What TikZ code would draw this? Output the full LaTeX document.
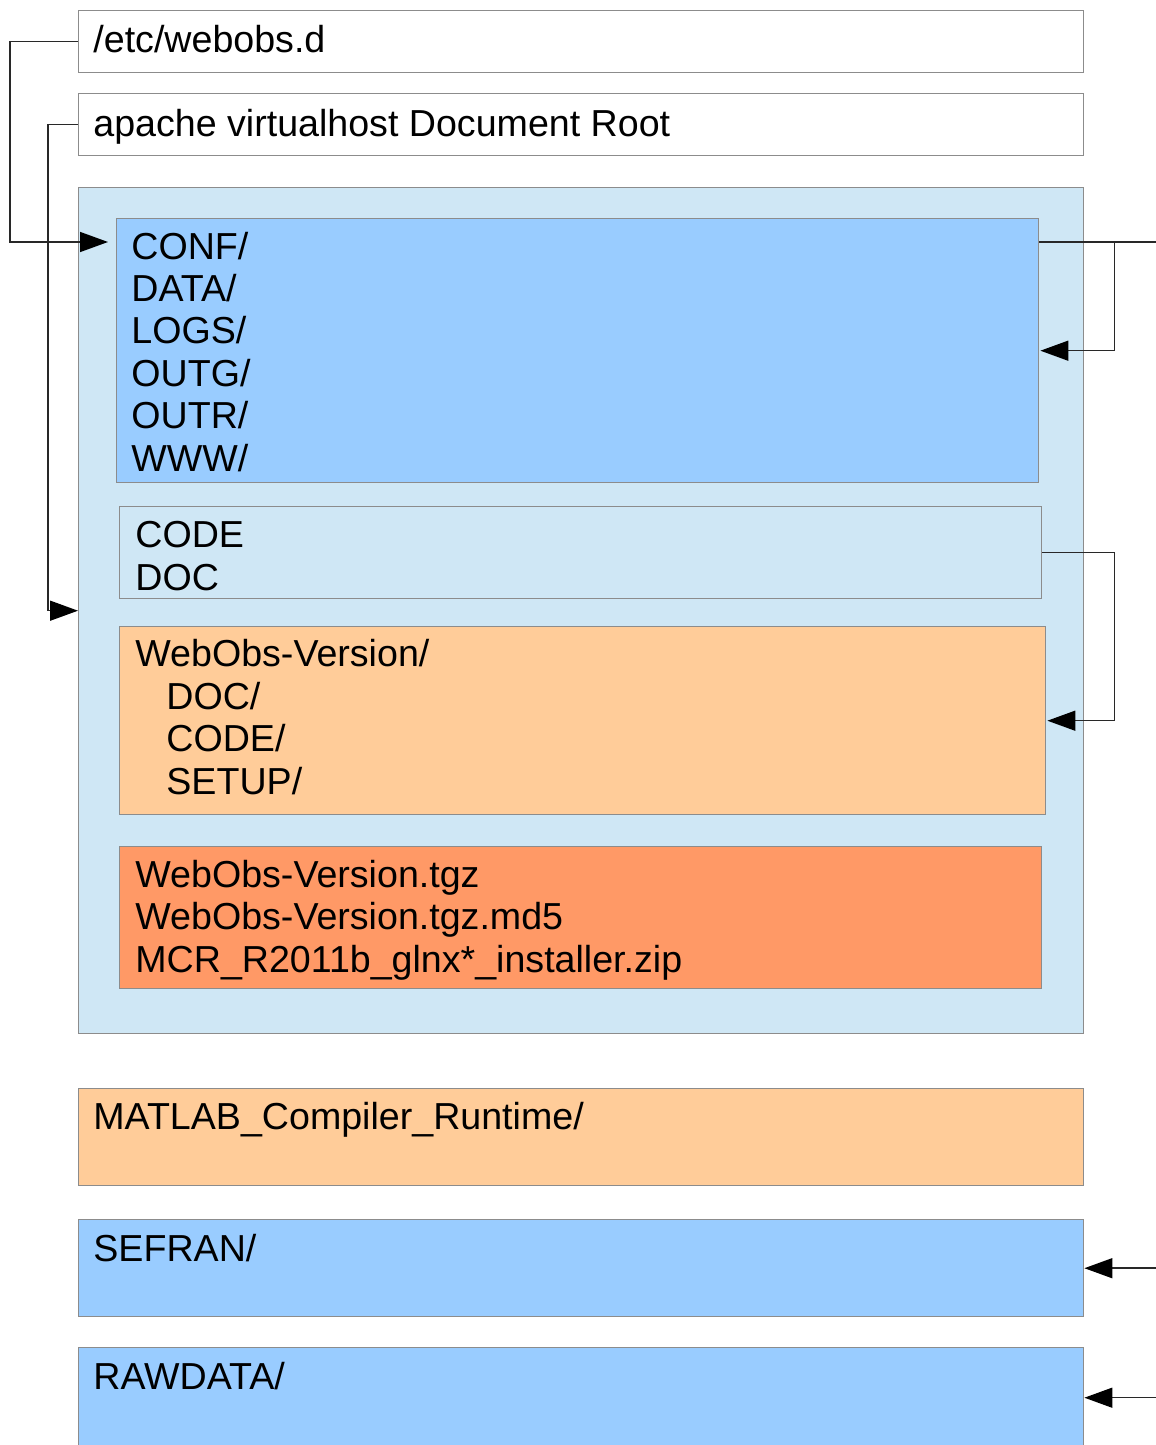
\documentclass[tikz,border=0pt]{standalone}
\usepackage{fontspec}
\setmainfont{Liberation Sans}
\usetikzlibrary{calc,arrows.meta}
\definecolor{paleblue}{RGB}{207,231,245}
\definecolor{skyblue}{RGB}{153,204,255}
\definecolor{lightorange}{RGB}{255,204,153}
\definecolor{darkorange}{RGB}{255,153,102}
\definecolor{boxline}{RGB}{140,140,140}
\definecolor{linkline}{RGB}{40,40,40}

\begin{document}
\begin{tikzpicture}[x=0.5pt, y=-0.5pt,
    folder/.style={draw=boxline, line width=0.7pt, anchor=north west, inner sep=0pt},
    label/.style={anchor=base west, inner sep=0pt, align=left, font=\fontsize{18.8}{21.2}\selectfont},
    link/.style={draw=linkline, line width=0.75pt},
    arr/.style={-{Triangle[length=14pt, width=10pt, color=black]}}]

    \useasboundingbox (0, 0) rectangle (1156, 1445);

    % top two boxes
    \node[folder, fill=white, minimum width=502.5pt, minimum height=31pt] (etc) at (78, 10) {};
    \node[label] (etctext) at (93, 53) {/etc/webobs.d};

    \node[folder, fill=white, minimum width=502.5pt, minimum height=31pt] (apache) at (78, 93) {};
    \node[label] (apachetext) at (93, 136) {apache virtualhost Document Root};

    % document root (base of a multi-line label is its last line)
    \node[folder, fill=paleblue, minimum width=502.5pt, minimum height=423pt] (root) at (78, 187) {};

    \node[folder, fill=skyblue, minimum width=461pt, minimum height=132pt] (conf) at (116, 218) {};
    \node[label] (conftext) at (131, 471) {CONF/\\DATA/\\LOGS/\\OUTG/\\OUTR/\\WWW/};

    \node[folder, fill=paleblue, minimum width=461pt, minimum height=46pt] (code) at (119, 506) {};
    \node[label] (codetext) at (135, 590) {CODE\\DOC};

    \node[folder, fill=lightorange, minimum width=463pt, minimum height=94pt] (version) at (119, 626) {};
    \node[label] (versiontext) at (135, 794) {WebObs-Version/\\\hspace*{15.5pt}DOC/\\\hspace*{15.5pt}CODE/\\\hspace*{15.5pt}SETUP/};

    \node[folder, fill=darkorange, minimum width=461pt, minimum height=71pt] (tgz) at (119, 846) {};
    \node[label] (tgztext) at (135, 972) {WebObs-Version.tgz\\WebObs-Version.tgz.md5\\MCR\_R2011b\_glnx*\_installer.zip};

    % bottom boxes
    \node[folder, fill=lightorange, minimum width=502.5pt, minimum height=48.5pt] (matlab) at (78, 1088) {};
    \node[label] (matlabtext) at (93, 1129) {MATLAB\_Compiler\_Runtime/};

    \node[folder, fill=skyblue, minimum width=502.5pt, minimum height=48.5pt] (sefran) at (78, 1219) {};
    \node[label] (sefrantext) at (93, 1261) {SEFRAN/};

    \node[folder, fill=skyblue, minimum width=502.5pt, minimum height=50pt] (rawdata) at (78, 1347) {};
    \node[label] (rawdatatext) at (93, 1389) {RAWDATA/};

    % links on the left
    \draw[link, arr] (etc.west) -- ++(-68, 0) |- ([xshift=-4pt, yshift=-12pt]conf.north west);
    \draw[link, arr] (apache.west) -- ++(-30, 0) |- (root.west);

    % links on the right
    \coordinate (confout) at ([yshift=-12pt]conf.north east);
    \coordinate (offconf) at (1156, 242);
    \draw[link] (confout) -- (offconf);
    \draw[link, arr] ([xshift=37.5pt]confout) |- ([xshift=0.5pt]conf.east);
    \draw[link, arr] (code.east) -- ++(72, 0) |- ([xshift=0.5pt]version.east);

    \coordinate (offsefran) at ($(sefran.east)+(74, 0)$);
    \coordinate (offrawdata) at ($(rawdata.east)+(74, 0)$);
    \draw[link, arr] (offsefran) -- (sefran.east);
    \draw[link, arr] (offrawdata) -- (rawdata.east);

\end{tikzpicture}
\end{document}
